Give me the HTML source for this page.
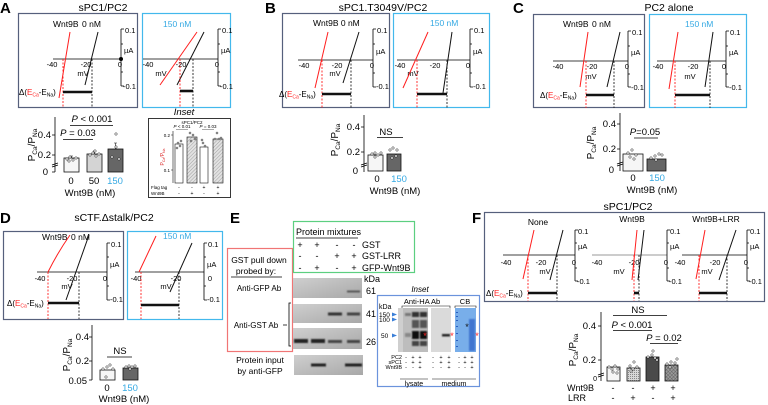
<!DOCTYPE html>
<html><head><meta charset="utf-8"><style>
html,body{margin:0;padding:0;background:#fff;}
svg{display:block;font-family:"Liberation Sans",Arial,sans-serif;}
.L{font-size:15px;font-weight:bold;}
.ti{font-size:10.5px;text-anchor:middle;}
.s9{font-size:8.5px;}
.s8{font-size:7.5px;}
.m{text-anchor:middle;}
.r{text-anchor:end;}
.b{font-size:9.5px;}
.blu{fill:#35a9e3;}
.ax{stroke:#000;stroke-width:0.8;fill:none;}
.axg{stroke:#777;stroke-width:0.8;fill:none;}
.rl{stroke:#ff1e1e;stroke-width:1;fill:none;}
.bl{stroke:#111;stroke-width:1;fill:none;}
.rd{stroke:#ff1e1e;stroke-width:0.9;stroke-dasharray:2 1.5;}
.bd{stroke:#222;stroke-width:0.9;stroke-dasharray:2 1.5;}
.tb{stroke:#111;stroke-width:2.6;}
.bx1{fill:none;stroke:#56607c;stroke-width:1.2;}
.bx2{fill:none;stroke:#43b8ec;stroke-width:1.2;}
.bar{stroke:#111;stroke-width:0.8;}
.dot{fill:#fff;stroke:#111;stroke-width:0.5;}
.eb{stroke:#111;stroke-width:0.6;fill:none;}
</style></head><body>
<svg width="768" height="405" viewBox="0 0 768 405" xmlns="http://www.w3.org/2000/svg">
<defs>
<pattern id="hatch" width="2.5" height="2.5" patternUnits="userSpaceOnUse" patternTransform="rotate(45)"><rect width="2.5" height="2.5" fill="#e2e2e2"/><line x1="0" y1="0" x2="0" y2="2.5" stroke="#9a9a9a" stroke-width="0.9"/></pattern>
<pattern id="stip" width="2" height="2" patternUnits="userSpaceOnUse"><rect width="2" height="2" fill="#d8d8d8"/><rect x="0" y="0" width="1" height="1" fill="#888"/></pattern>
<pattern id="cross" width="2.5" height="2.5" patternUnits="userSpaceOnUse" patternTransform="rotate(45)"><rect width="2.5" height="2.5" fill="#9a9a9a"/><line x1="0" y1="0" x2="0" y2="2.5" stroke="#555" stroke-width="0.8"/><line x1="0" y1="0" x2="2.5" y2="0" stroke="#555" stroke-width="0.8"/></pattern>
<linearGradient id="blot" x1="0" y1="0" x2="1" y2="1"><stop offset="0" stop-color="#cfcfcf"/><stop offset="1" stop-color="#a8a8a8"/></linearGradient>
<filter id="blr" x="-20%" y="-50%" width="140%" height="200%"><feGaussianBlur stdDeviation="0.8"/></filter>
</defs>

<!-- ================= Panel A ================= -->
<text x="0" y="13" class="L">A</text>
<text x="103" y="11" class="ti">sPC1/PC2</text>
<rect x="18.5" y="13.5" width="119" height="94" class="bx1"/>
<rect x="142.5" y="13.5" width="88" height="94" class="bx2"/>
<text x="53" y="27" class="s9">Wnt9B</text><text x="82" y="27" class="s9">0 nM</text>
<line x1="53" y1="59" x2="121" y2="59" class="ax"/>
<path d="M121 29V86M121 29h3M121 86h3M121 44h2M121 72h2" class="ax"/>
<circle cx="121" cy="59" r="2"/>
<text x="125" y="33" class="s8">0.1</text><text x="124" y="53" class="s8">µA</text><text x="123" y="89" class="s8">-0.1</text>
<text x="52" y="67" class="s8 m">-40</text><text x="86" y="67" class="s8 m">-20</text><text x="120" y="67" class="s8 m">0</text><text x="83" y="76" class="s8 m">mV</text>
<line x1="70" y1="32" x2="59" y2="98" class="rl"/>
<line x1="98" y1="32" x2="85" y2="85" class="bl"/>
<line x1="63" y1="59" x2="63" y2="107" class="rd"/><line x1="92" y1="59" x2="92" y2="107" class="bd"/>
<line x1="63" y1="92" x2="92" y2="92" class="tb"/>
<text x="19" y="95" font-size="8">Δ(<tspan fill="#f22">E</tspan><tspan fill="#f22" font-size="5" dy="1.5">Ca</tspan><tspan dy="-1.5">-E</tspan><tspan font-size="5" dy="1.5">Na</tspan><tspan dy="-1.5">)</tspan></text>

<text x="163" y="27" class="s9 blu">150 nM</text>
<line x1="143" y1="59" x2="218" y2="59" class="ax"/>
<path d="M218 29V86M218 29h3M218 86h3M218 44h2M218 72h2" class="ax"/>
<text x="222" y="33" class="s8">0.1</text><text x="221" y="53" class="s8">µA</text><text x="220" y="89" class="s8">-0.1</text>
<text x="148" y="67" class="s8 m">-40</text><text x="181" y="67" class="s8 m">-20</text><text x="217" y="67" class="s8 m">0</text><text x="161" y="76" class="s8 m">mV</text>
<line x1="197" y1="32" x2="160" y2="85" class="rl"/>
<line x1="204" y1="32" x2="177" y2="85" class="bl"/>
<line x1="180" y1="59" x2="180" y2="107" class="rd"/><line x1="193" y1="59" x2="193" y2="107" class="bd"/>
<line x1="180" y1="91" x2="193" y2="91" class="tb"/>

<!-- A bar chart -->
<path d="M55 117V172M55 135h-3M55 155h-3M55 172h-3M52 167l6-2M52 165l6-2" class="ax"/>
<text x="51" y="138" class="b r">0.4</text><text x="51" y="158" class="b r">0.2</text><text x="48" y="175" class="b r">0</text>
<text transform="translate(35,145) rotate(-90)" class="m" font-size="10">P<tspan font-size="6.5" dy="2">Ca</tspan><tspan dy="-2">/P</tspan><tspan font-size="6.5" dy="2">Na</tspan></text>
<text x="92" y="122" class="b m"><tspan font-style="italic">P</tspan> &lt; 0.001</text>
<line x1="70" y1="125.5" x2="113" y2="125.5" class="ax"/>
<text x="78" y="136" class="b m"><tspan font-style="italic">P</tspan> = 0.03</text>
<line x1="63" y1="139.5" x2="93" y2="139.5" class="ax"/>
<rect x="64" y="158" width="15" height="14" fill="#f6f6f6" class="bar"/>
<rect x="87" y="154" width="15" height="18" fill="#d4d4d4" class="bar"/>
<rect x="108" y="149" width="15" height="23" fill="#666" class="bar"/>
<path d="M71.5 158v-2M70 156h3M94.5 154v-3M93 151h3M115.5 149v-6M114 143h3" class="eb"/>
<g class="dot"><circle cx="67" cy="159" r="1.2"/><circle cx="70" cy="157" r="1.2"/><circle cx="73" cy="160" r="1.2"/><circle cx="76" cy="158" r="1.2"/><circle cx="69" cy="161" r="1.2"/>
<circle cx="90" cy="155" r="1.2"/><circle cx="93" cy="153" r="1.2"/><circle cx="96" cy="156" r="1.2"/><circle cx="99" cy="154" r="1.2"/><circle cx="95" cy="151" r="1.2"/>
<circle cx="112" cy="157" r="1.2"/><circle cx="116" cy="147" r="1.2"/><circle cx="119" cy="159" r="1.2"/><circle cx="116" cy="134" r="1.2"/></g>
<text x="71" y="184" class="b m">0</text><text x="94" y="184" class="b m">50</text><text x="115" y="184" class="b m blu">150</text>
<text x="90" y="196" class="b m">Wnt9B (nM)</text>

<!-- A inset -->
<text x="184" y="115" font-size="9.5" font-style="italic" class="m">Inset</text>
<rect x="148.5" y="118.5" width="82" height="79" fill="none" stroke="#222" stroke-width="0.9"/>
<text x="192" y="124" font-size="4.5" class="m">sPC1/PC2</text>
<text x="182" y="128" font-size="4.5" class="m"><tspan font-style="italic">P</tspan> &lt; 0.01</text><line x1="176" y1="129.5" x2="188" y2="129.5" stroke="#555" stroke-width="0.5"/>
<text x="208" y="128" font-size="4.5" class="m"><tspan font-style="italic">P</tspan> = 0.03</text><line x1="202" y1="129.5" x2="214" y2="129.5" stroke="#555" stroke-width="0.5"/>
<path d="M173 131V183M173 135h-2M173 170h-2" stroke="#111" stroke-width="0.6" fill="none"/>
<text x="170" y="137" font-size="4.5" class="r">0.2</text><text x="170" y="172" font-size="4.5" class="r">0.1</text>
<text transform="translate(164,157) rotate(-90)" class="m" font-size="5" fill="#d33">P<tspan font-size="3.5" dy="1">Ca</tspan><tspan dy="-1">/P</tspan><tspan font-size="3.5" dy="1">Na</tspan></text>
<rect x="175" y="144" width="8" height="39" fill="#fff" stroke="#111" stroke-width="0.6"/>
<rect x="187" y="137" width="10" height="46" fill="url(#hatch)" stroke="#111" stroke-width="0.6"/>
<rect x="200" y="147" width="8" height="36" fill="#fff" stroke="#111" stroke-width="0.6"/>
<rect x="213" y="139" width="10" height="44" fill="url(#hatch)" stroke="#111" stroke-width="0.6"/>
<g class="dot"><circle cx="178" cy="143" r="1"/><circle cx="180" cy="146" r="1"/><circle cx="177" cy="148" r="1"/><circle cx="181" cy="141" r="1"/>
<circle cx="190" cy="133" r="1"/><circle cx="193" cy="135" r="1"/><circle cx="195" cy="139" r="1"/><circle cx="191" cy="141" r="1"/>
<circle cx="203" cy="143" r="1"/><circle cx="205" cy="146" r="1"/><circle cx="202" cy="140" r="1"/>
<circle cx="217" cy="133" r="1"/><circle cx="215" cy="139" r="1"/><circle cx="219" cy="139" r="1"/><circle cx="221" cy="138" r="1"/></g>
<text x="151" y="189" font-size="4.5">Flag tag</text><text x="151" y="195" font-size="4.5">Wnt9B</text>
<g font-size="5" class="m"><text x="179" y="189">-</text><text x="192" y="189">-</text><text x="204" y="189">+</text><text x="218" y="189">+</text>
<text x="179" y="195">-</text><text x="192" y="195">+</text><text x="204" y="195">-</text><text x="218" y="195">+</text></g>

<!-- ================= Panel B ================= -->
<text x="265" y="13" class="L">B</text>
<text x="383" y="11" class="ti">sPC1.T3049V/PC2</text>
<rect x="282.5" y="13.5" width="107" height="94" class="bx1"/>
<rect x="393.5" y="13.5" width="96" height="94" class="bx2"/>
<text x="313" y="26" class="s9">Wnt9B 0 nM</text>
<line x1="298" y1="60" x2="373" y2="60" class="ax"/>
<path d="M373 29V87M373 29h3M373 87h3M373 44h2M373 73h2" class="ax"/>
<text x="377" y="33" class="s8">0.1</text><text x="376" y="54" class="s8">µA</text><text x="376" y="89" class="s8">-0.1</text>
<text x="304" y="68" class="s8 m">-40</text><text x="337" y="68" class="s8 m">-20</text><text x="372" y="68" class="s8 m">0</text><text x="335" y="76" class="s8 m">mV</text>
<line x1="328" y1="32" x2="315" y2="88" class="rl"/>
<line x1="359" y1="32" x2="343" y2="83" class="bl"/>
<line x1="322" y1="60" x2="322" y2="108" class="rd"/><line x1="351" y1="60" x2="351" y2="108" class="bd"/>
<line x1="322" y1="94" x2="351" y2="94" class="tb"/>
<text x="279" y="97" font-size="8">Δ(<tspan fill="#f22">E</tspan><tspan fill="#f22" font-size="5" dy="1.5">Ca</tspan><tspan dy="-1.5">-E</tspan><tspan font-size="5" dy="1.5">Na</tspan><tspan dy="-1.5">)</tspan></text>

<text x="430" y="26" class="s9 blu">150 nM</text>
<line x1="397" y1="60" x2="470" y2="60" class="ax"/>
<path d="M470 29V87M470 29h3M470 87h3M470 44h2M470 73h2" class="ax"/>
<text x="474" y="33" class="s8">0.1</text><text x="473" y="54" class="s8">µA</text><text x="473" y="89" class="s8">-0.1</text>
<text x="400" y="68" class="s8 m">-40</text><text x="435" y="68" class="s8 m">-20</text><text x="468" y="68" class="s8 m">0</text><text x="413" y="76" class="s8 m">mV</text>
<line x1="428" y1="32" x2="403" y2="88" class="rl"/>
<line x1="452" y1="32" x2="443" y2="93" class="bl"/>
<line x1="417" y1="60" x2="417" y2="108" class="rd"/><line x1="447" y1="60" x2="447" y2="108" class="bd"/>
<line x1="417" y1="94" x2="447" y2="94" class="tb"/>

<!-- B bar chart -->
<path d="M364 115V172M364 127h-3M364 152h-3M361 167l6-2M361 165l6-2" class="ax"/>
<text x="360" y="130" class="b r">0.4</text><text x="360" y="155" class="b r">0.2</text><text x="358" y="174" class="b r">0</text>
<text transform="translate(338,140) rotate(-90)" class="m" font-size="10">P<tspan font-size="6.5" dy="2">Ca</tspan><tspan dy="-2">/P</tspan><tspan font-size="6.5" dy="2">Na</tspan></text>
<text x="386" y="135" class="b m">NS</text><line x1="377" y1="137.5" x2="403" y2="137.5" class="ax"/>
<rect x="368" y="155" width="15" height="16" fill="#f6f6f6" class="bar"/>
<rect x="387" y="154" width="14" height="17" fill="#666" class="bar"/>
<g class="dot"><circle cx="372" cy="154" r="1.2"/><circle cx="375" cy="153" r="1.2"/><circle cx="378" cy="155" r="1.2"/><circle cx="381" cy="153" r="1.2"/><circle cx="375" cy="157" r="1.2"/>
<circle cx="390" cy="150" r="1.2"/><circle cx="393" cy="148" r="1.2"/><circle cx="397" cy="150" r="1.2"/><circle cx="392" cy="158" r="1.2"/><circle cx="396" cy="156" r="1.2"/></g>
<text x="377" y="182" class="b m">0</text><text x="399" y="182" class="b m blu">150</text>
<text x="395" y="194" class="b m">Wnt9B (nM)</text>

<!-- ================= Panel C ================= -->
<text x="513" y="13" class="L">C</text>
<text x="669" y="11" class="ti">PC2 alone</text>
<rect x="533.5" y="14.5" width="111" height="93" class="bx1"/>
<rect x="649.5" y="14.5" width="97" height="93" class="bx2"/>
<text x="563" y="27" class="s9">Wnt9B</text><text x="592" y="27" class="s9">0 nM</text>
<line x1="553" y1="61" x2="628" y2="61" class="ax"/>
<path d="M628 31V87M628 31h3M628 87h3M628 46h2M628 74h2" class="ax"/>
<text x="632" y="35" class="s8">0.1</text><text x="631" y="55" class="s8">µA</text><text x="631" y="90" class="s8">-0.1</text>
<text x="558" y="69" class="s8 m">-40</text><text x="592" y="69" class="s8 m">-20</text><text x="627" y="69" class="s8 m">0</text><text x="591" y="79" class="s8 m">mV</text>
<line x1="588" y1="32" x2="580" y2="87" class="rl"/>
<line x1="620" y1="32" x2="607" y2="87" class="bl"/>
<line x1="586" y1="61" x2="586" y2="108" class="rd"/><line x1="614" y1="61" x2="614" y2="108" class="bd"/>
<line x1="586" y1="95" x2="614" y2="95" class="tb"/>
<text x="540" y="98" font-size="8">Δ(<tspan fill="#f22">E</tspan><tspan fill="#f22" font-size="5" dy="1.5">Ca</tspan><tspan dy="-1.5">-E</tspan><tspan font-size="5" dy="1.5">Na</tspan><tspan dy="-1.5">)</tspan></text>

<text x="685" y="27" class="s9 blu">150 nM</text>
<line x1="657" y1="61" x2="726" y2="61" class="ax"/>
<path d="M726 31V87M726 31h3M726 87h3M726 46h2M726 74h2" class="ax"/>
<text x="730" y="35" class="s8">0.1</text><text x="729" y="55" class="s8">µA</text><text x="729" y="90" class="s8">-0.1</text>
<text x="658" y="69" class="s8 m">-40</text><text x="693" y="69" class="s8 m">-20</text><text x="724" y="69" class="s8 m">0</text><text x="690" y="79" class="s8 m">mV</text>
<line x1="678" y1="32" x2="669" y2="89" class="rl"/>
<line x1="713" y1="32" x2="705" y2="87" class="bl"/>
<line x1="675" y1="61" x2="675" y2="108" class="rd"/><line x1="710" y1="61" x2="710" y2="108" class="bd"/>
<line x1="675" y1="95" x2="710" y2="95" class="tb"/>

<!-- C bar chart -->
<path d="M620 113V171M620 124h-3M620 149h-3M617 166l6-2M617 164l6-2" class="ax"/>
<text x="616" y="127" class="b r">0.4</text><text x="616" y="152" class="b r">0.2</text><text x="614" y="173" class="b r">0</text>
<text transform="translate(594,143) rotate(-90)" class="m" font-size="10">P<tspan font-size="6.5" dy="2">Ca</tspan><tspan dy="-2">/P</tspan><tspan font-size="6.5" dy="2">Na</tspan></text>
<text x="645" y="135" class="b m"><tspan font-style="italic">P</tspan>=0.05</text><line x1="634" y1="138" x2="658" y2="138" class="ax"/>
<rect x="623" y="154" width="20" height="17" fill="#f6f6f6" class="bar"/>
<rect x="647" y="159" width="19" height="12" fill="#666" class="bar"/>
<g class="dot"><circle cx="628" cy="153" r="1.2"/><circle cx="632" cy="150" r="1.2"/><circle cx="636" cy="155" r="1.2"/><circle cx="630" cy="157" r="1.2"/><circle cx="634" cy="159" r="1.2"/>
<circle cx="651" cy="158" r="1.2"/><circle cx="655" cy="156" r="1.2"/><circle cx="659" cy="154" r="1.2"/><circle cx="662" cy="155" r="1.2"/><circle cx="656" cy="160" r="1.2"/></g>
<text x="633" y="181" class="b m">0</text><text x="657" y="181" class="b m blu">150</text>
<text x="652" y="193" class="b m">Wnt9B (nM)</text>

<!-- ================= Panel D ================= -->
<text x="0" y="223" class="L">D</text>
<text x="114" y="221" class="ti">sCTF.Δstalk/PC2</text>
<rect x="3.5" y="231.5" width="120" height="88" class="bx1"/>
<rect x="127.5" y="231.5" width="95" height="88" class="bx2"/>
<text x="42" y="240" class="s9">Wnt9B</text><text x="71" y="240" class="s9">0 nM</text>
<line x1="37" y1="272" x2="107" y2="272" class="ax"/>
<path d="M107 243V300M107 243h3M107 300h3M107 257h2M107 286h2" class="ax"/>
<text x="111" y="247" class="s8">0.1</text><text x="110" y="267" class="s8">µA</text><text x="110" y="302" class="s8">-0.1</text>
<text x="40" y="281" class="s8 m">-40</text><text x="72" y="281" class="s8 m">-20</text><text x="105" y="281" class="s8 m">0</text><text x="67" y="289" class="s8 m">mV</text>
<path d="M70 235Q58 252 48 272" class="rl"/>
<line x1="89" y1="235" x2="66" y2="300" class="bl"/>
<line x1="48" y1="272" x2="48" y2="319" class="rd"/><line x1="79" y1="272" x2="79" y2="319" class="bd"/>
<line x1="48" y1="303" x2="79" y2="303" class="tb"/>
<text x="7" y="306" font-size="8">Δ(<tspan fill="#f22">E</tspan><tspan fill="#f22" font-size="5" dy="1.5">Ca</tspan><tspan dy="-1.5">-E</tspan><tspan font-size="5" dy="1.5">Na</tspan><tspan dy="-1.5">)</tspan></text>

<text x="163" y="239" class="s9 blu">150 nM</text>
<line x1="135" y1="272" x2="204" y2="272" class="ax"/>
<path d="M204 243V300M204 243h3M204 300h3M204 257h2M204 286h2" class="ax"/>
<text x="208" y="247" class="s8">0.1</text><text x="207" y="267" class="s8">µA</text><text x="207" y="302" class="s8">-0.1</text>
<text x="136" y="281" class="s8 m">-40</text><text x="176" y="281" class="s8 m">-20</text><text x="210" y="281" class="s8 m">0</text><text x="166" y="289" class="s8 m">mV</text>
<path d="M156 236Q147 255 139 272" class="rl"/>
<line x1="192" y1="243" x2="170" y2="292" class="bl"/>
<line x1="141" y1="272" x2="141" y2="319" class="rd"/><line x1="179" y1="272" x2="179" y2="319" class="bd"/>
<line x1="141" y1="305" x2="179" y2="305" class="tb"/>

<!-- D bar chart -->
<path d="M92 325V380M92 337h-3M92 361h-3M92 380h-3" class="ax"/>
<text x="89" y="340" class="b r">0.4</text><text x="89" y="364" class="b r">0.2</text><text x="87" y="384" class="b r">0.05</text>
<text transform="translate(70,355) rotate(-90)" class="m" font-size="10">P<tspan font-size="6.5" dy="2">Ca</tspan><tspan dy="-2">/P</tspan><tspan font-size="6.5" dy="2">Na</tspan></text>
<text x="120" y="354" class="b m">NS</text><line x1="107" y1="357" x2="132" y2="357" class="ax"/>
<rect x="100" y="370" width="15" height="10" fill="#f6f6f6" class="bar"/>
<rect x="123" y="368" width="15" height="12" fill="#666" class="bar"/>
<g class="dot"><circle cx="103" cy="369" r="1.2"/><circle cx="107" cy="367" r="1.2"/><circle cx="110" cy="365" r="1.2"/><circle cx="113" cy="369" r="1.2"/><circle cx="106" cy="377" r="1.2"/>
<circle cx="126" cy="367" r="1.2"/><circle cx="129" cy="366" r="1.2"/><circle cx="132" cy="367" r="1.2"/><circle cx="135" cy="366" r="1.2"/><circle cx="130" cy="369" r="1.2"/></g>
<text x="107" y="391" class="b m">0</text><text x="130" y="391" class="b m blu">150</text>
<text x="124" y="402" class="b m">Wnt9B (nM)</text>

<!-- ================= Panel E ================= -->
<text x="230" y="223" class="L">E</text>
<rect x="227.5" y="248.5" width="65" height="103" fill="none" stroke="#f07575" stroke-width="1.2"/>
<rect x="293.5" y="221.5" width="121" height="51" fill="none" stroke="#5ccf80" stroke-width="1.2"/>
<text x="296" y="235" font-size="9">Protein mixtures</text><line x1="296" y1="238" x2="358" y2="238" class="ax"/>
<g font-size="9" class="m"><text x="300" y="248">+</text><text x="317" y="248">+</text><text x="337" y="248">-</text><text x="354" y="248">-</text>
<text x="300" y="259">-</text><text x="317" y="259">-</text><text x="337" y="259">+</text><text x="354" y="259">+</text>
<text x="300" y="271">-</text><text x="317" y="271">+</text><text x="337" y="271">-</text><text x="354" y="271">+</text></g>
<text x="362" y="248" font-size="9">GST</text><text x="362" y="259" font-size="9">GST-LRR</text><text x="362" y="271" font-size="9">GFP-Wnt9B</text>
<text x="259" y="263" font-size="8.5" class="m">GST pull down</text>
<text x="256" y="274" font-size="8.5" class="m">probed by:</text><line x1="231" y1="277" x2="282" y2="277" class="ax"/>
<text x="259" y="291" font-size="8" class="m">Anti-GFP Ab</text>
<text x="256" y="328" font-size="8" class="m">Anti-GST Ab</text>
<path d="M283 325h4M291 303h-2V346h2" class="ax"/>
<text x="260" y="363" font-size="8.5" class="m">Protein input</text>
<text x="260" y="374" font-size="8.5" class="m">by anti-GFP</text>
<rect x="293" y="278" width="69" height="20" fill="url(#blot)"/>
<rect x="293" y="304" width="69" height="19" fill="url(#blot)"/>
<rect x="293" y="328" width="69" height="21" fill="url(#blot)"/>
<rect x="294" y="355" width="69" height="20" fill="url(#blot)"/>
<g filter="url(#blr)" fill="#222">
<rect x="347" y="290.5" width="13" height="2" fill="#555"/>
<rect x="328" y="312.5" width="14" height="3" fill="#333"/>
<rect x="347" y="312.5" width="13" height="3" fill="#444"/>
<rect x="294" y="339" width="14" height="4"/>
<rect x="311" y="339" width="14" height="4"/>
<rect x="328" y="340" width="14" height="3" fill="#444"/>
<rect x="347" y="340" width="13" height="3" fill="#444"/>
<rect x="311" y="363.5" width="15" height="3"/>
<rect x="345" y="363.5" width="17" height="3"/>
</g>
<text x="364" y="282" font-size="9">kDa</text>
<text x="366" y="294" font-size="9">61</text><text x="366" y="317" font-size="9">41</text><text x="366" y="345" font-size="9">26</text>

<!-- E inset -->
<text x="420" y="292" font-size="8" font-style="italic" class="m">Inset</text>
<rect x="377.5" y="295.5" width="102" height="91" fill="none" stroke="#6b93dc" stroke-width="1.2"/>
<text x="379" y="309" font-size="7">kDa</text>
<text x="422" y="304" font-size="7.5" class="m">Anti-HA Ab</text>
<path d="M402 308v-2H450v2" stroke="#111" stroke-width="0.6" fill="none"/>
<text x="465" y="304" font-size="7.5" class="m">CB</text>
<path d="M455 308v-2H476v2" stroke="#111" stroke-width="0.6" fill="none"/>
<text x="379" y="317" font-size="6.5">150</text><text x="379" y="322" font-size="6.5">100</text><text x="381" y="338" font-size="6.5">50</text>
<g fill="#3a7fd8"><path d="M392 312.5l5 2-5 2z"/><path d="M392 317.5l5 2-5 2z"/><path d="M392 333.5l5 2-5 2z"/></g>
<rect x="398" y="308" width="30" height="44" fill="#bdbdbd"/>
<rect x="398" y="308" width="5" height="44" fill="#cfcfcf"/>
<g filter="url(#blr)">
<rect x="405" y="313" width="6" height="3" fill="#777"/>
<rect x="412" y="312" width="7" height="5" fill="#333"/><rect x="420" y="312" width="7" height="5" fill="#333"/>
<rect x="412" y="320" width="7" height="8" fill="#555"/><rect x="420" y="320" width="7" height="8" fill="#555"/>
<rect x="412" y="331" width="7" height="8" fill="#111"/><rect x="420" y="331" width="7" height="8" fill="#111"/>
<rect x="412" y="341" width="7" height="5" fill="#444"/><rect x="420" y="341" width="7" height="5" fill="#444"/>
<rect x="405" y="333" width="6" height="4" fill="#888"/>
</g>
<rect x="431" y="308" width="20" height="44" fill="#dadada"/>
<rect x="442" y="334" width="8" height="2.5" fill="#222" filter="url(#blr)"/>
<rect x="455" y="308" width="21" height="44" fill="#78aeea"/>
<g fill="#2a5fc0"><rect x="456" y="312" width="2" height="1"/><rect x="456" y="316" width="2" height="1"/><rect x="456" y="320" width="2" height="1"/><rect x="456" y="326" width="2" height="1"/><rect x="456" y="333" width="2" height="1"/><rect x="456" y="340" width="2" height="1"/><rect x="456" y="346" width="2" height="1"/></g>
<rect x="469" y="319" width="6" height="32" fill="#3f74cf" filter="url(#blr)"/>
<text x="425" y="339" font-size="9" fill="#f22" class="m">*</text>
<text x="452" y="339" font-size="9" fill="#f22" class="m">*</text>
<text x="477" y="339" font-size="9" fill="#f22" class="m">*</text>
<text x="467" y="330" font-size="9" fill="#111" class="m">*</text>
<g font-size="5.5"><text x="402" y="359" class="r">PC2</text><text x="402" y="364" class="r">sPC1</text><text x="402" y="369" class="r">Wnt9B</text></g>
<g font-size="5.5" class="m">
<text x="406" y="359">-</text><text x="413" y="359">+</text><text x="420" y="359">+</text><text x="433" y="359">-</text><text x="441" y="359">+</text><text x="449" y="359">+</text><text x="459" y="359">-</text><text x="465" y="359">+</text><text x="472" y="359">+</text>
<text x="406" y="364">-</text><text x="413" y="364">+</text><text x="420" y="364">+</text><text x="433" y="364">-</text><text x="441" y="364">+</text><text x="449" y="364">+</text><text x="459" y="364">-</text><text x="465" y="364">+</text><text x="472" y="364">+</text>
<text x="406" y="369">-</text><text x="413" y="369">-</text><text x="420" y="369">+</text><text x="433" y="369">-</text><text x="441" y="369">-</text><text x="449" y="369">+</text><text x="459" y="369">-</text><text x="465" y="369">-</text><text x="472" y="369">+</text></g>
<line x1="400" y1="379" x2="428" y2="379" stroke="#111" stroke-width="0.6"/>
<line x1="432" y1="379" x2="476" y2="379" stroke="#111" stroke-width="0.6"/>
<text x="414" y="386" font-size="7" class="m">lysate</text>
<text x="454" y="386" font-size="7" class="m">medium</text>

<!-- ================= Panel F ================= -->
<text x="472" y="223" class="L">F</text>
<text x="628" y="210" class="ti">sPC1/PC2</text>
<rect x="484.5" y="212.5" width="280" height="89" class="bx1"/>
<text x="538" y="225" class="s9 m">None</text>
<text x="632" y="222" class="s9 m">Wnt9B</text>
<text x="716" y="222" class="s9 m">Wnt9B+LRR</text>
<!-- sub1 -->
<line x1="503" y1="255" x2="575" y2="255" class="ax"/>
<path d="M575 230V281M575 230h3M575 281h3M575 243h2M575 268h2" class="ax"/>
<text x="578" y="234" class="s8">0.1</text><text x="578" y="249" class="s8">µA</text><text x="577" y="284" class="s8">-0.1</text>
<text x="506" y="265" class="s8 m">-40</text><text x="541" y="265" class="s8 m">-20</text><text x="574" y="265" class="s8 m">0</text><text x="545" y="274" class="s8 m">mV</text>
<line x1="534" y1="230" x2="523" y2="279" class="rl"/>
<line x1="563" y1="230" x2="550" y2="280" class="bl"/>
<line x1="528" y1="255" x2="528" y2="301" class="rd"/><line x1="557" y1="255" x2="557" y2="301" class="bd"/>
<line x1="528" y1="293" x2="557" y2="293" class="tb"/>
<text x="486" y="296" font-size="8">Δ(<tspan fill="#f22">E</tspan><tspan fill="#f22" font-size="5" dy="1.5">Ca</tspan><tspan dy="-1.5">-E</tspan><tspan font-size="5" dy="1.5">Na</tspan><tspan dy="-1.5">)</tspan></text>
<!-- sub2 -->
<line x1="592" y1="255" x2="667" y2="255" class="axg"/>
<path d="M667 230V281M667 230h3M667 281h3M667 243h2M667 268h2" class="ax"/>
<text x="670" y="234" class="s8">0.1</text><text x="670" y="249" class="s8">µA</text><text x="669" y="284" class="s8">-0.1</text>
<text x="597" y="265" class="s8 m">-40</text><text x="634" y="265" class="s8 m">-20</text><text x="666" y="265" class="s8 m">0</text><text x="619" y="274" class="s8 m">mV</text>
<line x1="637" y1="230" x2="632" y2="280" class="rl"/>
<line x1="644" y1="230" x2="638" y2="280" class="bl"/>
<line x1="634" y1="255" x2="634" y2="301" class="rd"/><line x1="639" y1="255" x2="639" y2="301" class="bd"/>
<line x1="634" y1="293" x2="639" y2="293" class="tb"/>
<!-- sub3 -->
<line x1="682" y1="255" x2="747" y2="255" class="ax"/>
<path d="M747 230V281M747 230h3M747 281h3M747 243h2M747 268h2" class="ax"/>
<text x="750" y="234" class="s8">0.1</text><text x="750" y="249" class="s8">µA</text><text x="749" y="284" class="s8">-0.1</text>
<text x="680" y="265" class="s8 m">-40</text><text x="715" y="265" class="s8 m">-20</text><text x="746" y="265" class="s8 m">0</text><text x="707" y="274" class="s8 m">mV</text>
<line x1="705" y1="230" x2="696" y2="279" class="rl"/>
<line x1="736" y1="230" x2="719" y2="280" class="bl"/>
<line x1="699" y1="255" x2="699" y2="301" class="rd"/><line x1="727" y1="255" x2="727" y2="301" class="bd"/>
<line x1="699" y1="293" x2="727" y2="293" class="tb"/>

<!-- F bar chart -->
<path d="M601 312V381M601 326h-3M601 360h-3M598 377l6-2M598 375l6-2" class="ax"/>
<text x="596" y="329" class="b r">0.4</text><text x="596" y="363" class="b r">0.2</text>
<text x="597" y="381" font-size="7" class="r">0</text>
<text transform="translate(576,350) rotate(-90)" class="m" font-size="10">P<tspan font-size="6.5" dy="2">Ca</tspan><tspan dy="-2">/P</tspan><tspan font-size="6.5" dy="2">Na</tspan></text>
<text x="638" y="313" class="b m">NS</text><line x1="613" y1="315.5" x2="667" y2="315.5" class="ax"/>
<text x="632" y="328" class="b m"><tspan font-style="italic">P</tspan> &lt; 0.001</text><line x1="613" y1="330.5" x2="652" y2="330.5" class="ax"/>
<text x="664" y="341" class="b m"><tspan font-style="italic">P</tspan> = 0.02</text><line x1="650" y1="343.5" x2="678" y2="343.5" class="ax"/>
<rect x="607" y="367" width="13" height="14" fill="#f6f6f6" class="bar"/>
<rect x="627" y="368" width="13" height="13" fill="url(#stip)" class="bar"/>
<rect x="646" y="357" width="13" height="24" fill="#4a4a4a" class="bar"/>
<rect x="665" y="365" width="13" height="16" fill="url(#cross)" class="bar"/>
<g class="dot"><circle cx="609" cy="367" r="1.2"/><circle cx="612" cy="369" r="1.2"/><circle cx="615" cy="366" r="1.2"/><circle cx="618" cy="369" r="1.2"/><circle cx="613" cy="372" r="1.2"/><circle cx="617" cy="373" r="1.2"/>
<circle cx="630" cy="366" r="1.2"/><circle cx="633" cy="369" r="1.2"/><circle cx="637" cy="367" r="1.2"/><circle cx="634" cy="362" r="1.2"/><circle cx="631" cy="371" r="1.2"/>
<circle cx="648" cy="357" r="1.2"/><circle cx="652" cy="355" r="1.2"/><circle cx="655" cy="358" r="1.2"/><circle cx="653" cy="351" r="1.2"/><circle cx="657" cy="360" r="1.2"/>
<circle cx="667" cy="364" r="1.2"/><circle cx="671" cy="362" r="1.2"/><circle cx="675" cy="363" r="1.2"/><circle cx="677" cy="359" r="1.2"/><circle cx="670" cy="367" r="1.2"/></g>
<text x="594" y="391" font-size="9" class="r">Wnt9B</text><text x="586" y="401" font-size="9" class="r">LRR</text>
<g font-size="9" class="m"><text x="613" y="391">-</text><text x="633" y="391">-</text><text x="653" y="391">+</text><text x="673" y="391">+</text>
<text x="613" y="401">-</text><text x="633" y="401">+</text><text x="653" y="401">-</text><text x="673" y="401">+</text></g>
</svg>
</body></html>
